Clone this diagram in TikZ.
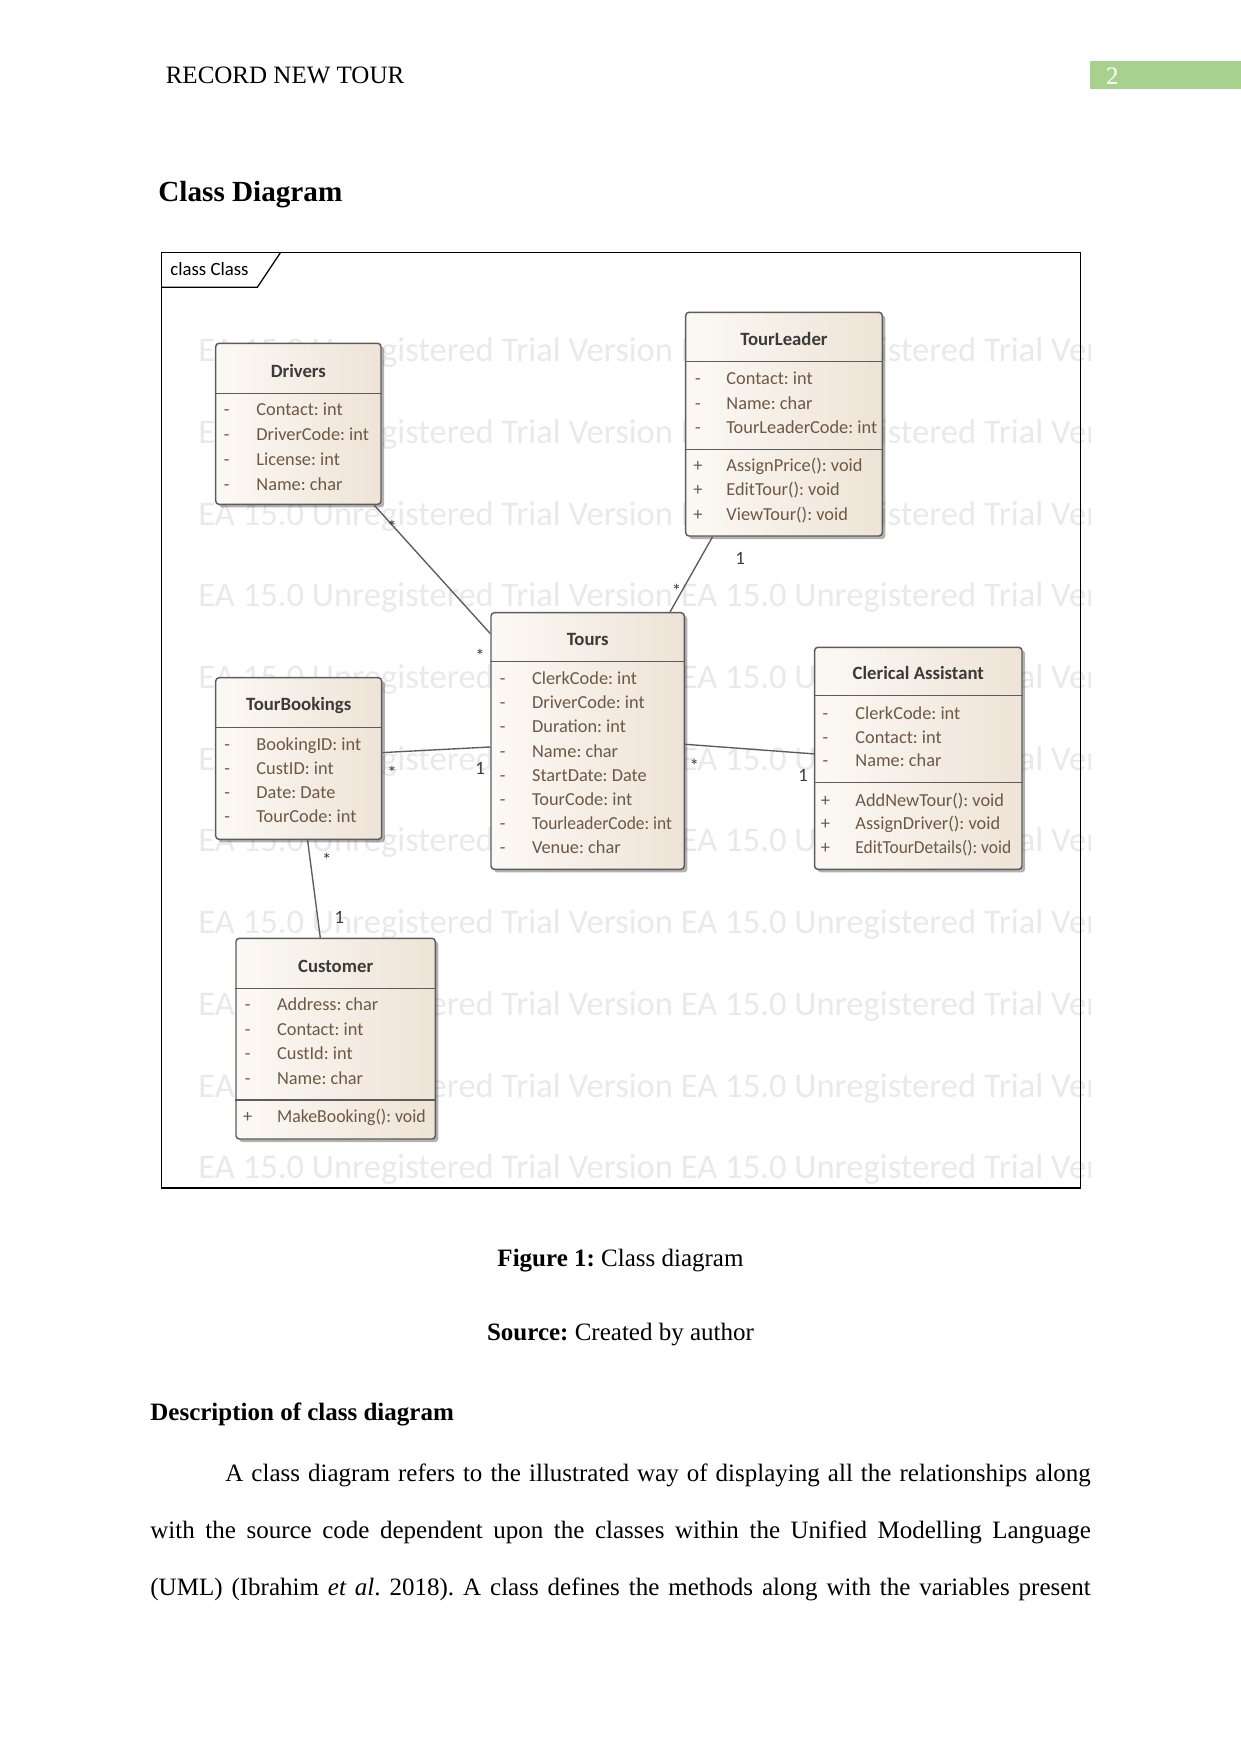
\documentclass[tikz,border=0pt]{standalone}
\usepackage{fontspec}
\setmainfont{Liberation Serif}
\newfontfamily\eafont{Carlito}
\usetikzlibrary{positioning,calc,fit,shadows}
\definecolor{eaborder}{RGB}{92,92,92}
\definecolor{ealeft}{RGB}{252,249,245}
\definecolor{earight}{RGB}{238,227,214}
\definecolor{eatext}{RGB}{110,88,68}
\definecolor{eadark}{RGB}{58,58,58}
\definecolor{eawater}{RGB}{233,233,233}
\definecolor{pagegreen}{RGB}{169,209,142}
\frenchspacing

\tikzset{
  classbox/.style={draw=eaborder, line width=0.7pt, rounded corners=1.6pt,
    left color=ealeft, right color=earight, inner sep=0pt,
    drop shadow={shadow xshift=1.5pt, shadow yshift=-1.5pt, opacity=0.3, fill=black}},
  sepline/.style={draw=eaborder, line width=0.7pt},
  classname/.style={font=\eafont\fontsize{9}{11}\selectfont\bfseries, text=eadark, inner sep=0pt},
  member/.style={font=\eafont\fontsize{8.8}{11}\selectfont, text=eatext, inner sep=0pt,
    text height=6.3pt, text depth=1.9pt},
  mult/.style={font=\eafont\fontsize{9}{11}\selectfont, text=eadark, inner sep=0pt},
  assoc/.style={draw=eaborder, line width=0.65pt},
  watermark/.style={font=\eafont\fontsize{16.6}{18}\selectfont, text=eawater, inner sep=0pt, anchor=base west},
  pagetext/.style={font=\fontsize{12}{14}\selectfont, inner sep=0pt}
}

\begin{document}
\begin{tikzpicture}[x=0.48pt, y=-0.48pt]
  \useasboundingbox (0,0) rectangle (1241,1754);

  % Page header
  \node[pagetext, anchor=base west] (header) at (165.4,83.3) {RECORD NEW TOUR};
  \fill[pagegreen] (1090,60.7) rectangle (1241,89);
  \node[pagetext, anchor=base west, text=white] (pagenum) at (1105.7,84) {2};
  \node[pagetext, anchor=base west, font=\fontsize{14}{16}\selectfont\bfseries] (heading) at (158,201) {Class Diagram};

  % Trial watermark behind the diagram
  \begin{scope}
    \clip (161.7,252.3) rectangle (1090,1190);
    \foreach \k in {0,...,10}
      \node[watermark] (wm\k) at (198,361.7+81.7*\k)
        {EA 15.0 Unregistered Trial Version EA 15.0 Unregistered Trial Version};
  \end{scope}

  % Diagram frame
  \draw[black, line width=0.6pt] (161.7,252.3) rectangle (1080.5,1188);
  \draw[black, line width=0.6pt] (161.7,287.3) -- (257.3,287.3) -- (280.7,252.3);
  \node[anchor=west, font=\eafont\fontsize{9}{11}\selectfont, inner sep=0pt] (frametag) at (170,269.5) {class Class};

  % Drivers
  \node[classbox, fit={(215.7,343.3) (381,504.3)}] (drivers) {};
  \draw[sepline] (drivers.west |- 0,393.3) -- (drivers.east |- 0,393.3);
  \node[classname] (drivers-t) at (drivers.north |- 0,371) {Drivers};
  \foreach \m [count=\i from 0] in {Contact: int, DriverCode: int, License: int, Name: char} {
    \node[member] (drivers-s\i) at (226.7,410.7+25*\i) {-};
    \node[member, anchor=west] (drivers-a\i) at (256,410.7+25*\i) {\m};
  }

  % TourLeader
  \node[classbox, fit={(685.7,312.3) (882.3,536)}] (leader) {};
  \draw[sepline] (leader.west |- 0,361.7) -- (leader.east |- 0,361.7);
  \draw[sepline] (leader.west |- 0,449.3) -- (leader.east |- 0,449.3);
  \node[classname] (leader-t) at (leader.north |- 0,339.3) {TourLeader};
  \foreach \m [count=\i from 0] in {Contact: int, Name: char, TourLeaderCode: int} {
    \node[member] (leader-s\i) at (698,380+24.6*\i) {-};
    \node[member, anchor=west] (leader-a\i) at (726,380+24.6*\i) {\m};
  }
  \foreach \m [count=\i from 0] in {AssignPrice(): void, EditTour(): void, ViewTour(): void} {
    \node[member] (leader-p\i) at (698,466.7+24.7*\i) {+};
    \node[member, anchor=west] (leader-o\i) at (726,466.7+24.7*\i) {\m};
  }

  % Tours
  \node[classbox, fit={(491,612.7) (684.3,869.3)}] (tours) {};
  \draw[sepline] (tours.west |- 0,661.7) -- (tours.east |- 0,661.7);
  \node[classname] (tours-t) at (tours.north |- 0,639.3) {Tours};
  \foreach \m [count=\i from 0] in {ClerkCode: int, DriverCode: int, Duration: int, Name: char,
      StartDate: Date, TourCode: int, {\scalebox{0.95}[1]{TourleaderCode: int}}, Venue: char} {
    \node[member] (tours-s\i) at (502.7,680.3+24.05*\i) {-};
    \node[member, anchor=west] (tours-a\i) at (531.7,680.3+24.05*\i) {\m};
  }

  % TourBookings
  \node[classbox, fit={(215.7,677.7) (381.7,839.3)}] (bookings) {};
  \draw[sepline] (bookings.west |- 0,727.3) -- (bookings.east |- 0,727.3);
  \node[classname] (bookings-t) at (bookings.north |- 0,705) {TourBookings};
  \foreach \m [count=\i from 0] in {BookingID: int, CustID: int, Date: Date, TourCode: int} {
    \node[member] (bookings-s\i) at (227.3,745.7+24*\i) {-};
    \node[member, anchor=west] (bookings-a\i) at (256,745.7+24*\i) {\m};
  }

  % Clerical Assistant
  \node[classbox, fit={(814.6,647.3) (1022,869.3)}] (clerk) {};
  \draw[sepline] (clerk.west |- 0,695.7) -- (clerk.east |- 0,695.7);
  \draw[sepline] (clerk.west |- 0,782.3) -- (clerk.east |- 0,782.3);
  \node[classname] (clerk-t) at (clerk.north |- 0,673.3) {Clerical Assistant};
  \foreach \m [count=\i from 0] in {ClerkCode: int, Contact: int, Name: char} {
    \node[member] (clerk-s\i) at (825.4,715+23.7*\i) {-};
    \node[member, anchor=west] (clerk-a\i) at (855,715+23.7*\i) {\m};
  }
  \foreach \m [count=\i from 0] in {AddNewTour(): void, AssignDriver(): void,
      {\scalebox{0.95}[1]{EditTourDetails(): void}}} {
    \node[member] (clerk-p\i) at (825.4,801.7+23.5*\i) {+};
    \node[member, anchor=west] (clerk-o\i) at (855,801.7+23.5*\i) {\m};
  }

  % Customer
  \node[classbox, fit={(236,938.3) (435.3,1139)}] (customer) {};
  \draw[sepline] (customer.west |- 0,988.3) -- (customer.east |- 0,988.3);
  \draw[sepline] (customer.west |- 0,1100) -- (customer.east |- 0,1100);
  \node[classname] (customer-t) at (customer.north |- 0,966) {Customer};
  \foreach \m [count=\i from 0] in {Address: char, Contact: int, CustId: int, Name: char} {
    \node[member] (customer-s\i) at (247.7,1006+24.7*\i) {-};
    \node[member, anchor=west] (customer-a\i) at (276.7,1006+24.7*\i) {\m};
  }
  \node[member] (customer-p0) at (247.7,1117.7) {+};
  \node[member, anchor=west] (customer-o0) at (276.7,1117.7) {\scalebox{0.97}[1]{MakeBooking(): void}};

  % Associations
  \draw[assoc] ($(drivers.south east)+(-7.7,0)$) -- ($(tours.north west)+(0,21.6)$);
  \draw[assoc] ($(leader.south west)+(27.6,0)$) -- ($(tours.north east)+(-15,0)$);
  \draw[assoc] ($(bookings.north east)+(0,75.6)$) -- ($(tours.north west)+(0,135)$);
  \draw[assoc] ($(tours.north east)+(0,132.3)$) -- ($(clerk.north west)+(0,107.3)$);
  \draw[assoc] ($(bookings.south west)+(92.6,0)$) -- ($(customer.north west)+(85,0)$);

  % Multiplicities
  \node[mult] (m-drv) at (392,527) {*};
  \node[mult] (m-tdrv) at (480,656) {*};
  \node[mult] (m-ldr) at (740,558) {1};
  \node[mult] (m-tldr) at (676.5,591) {*};
  \node[mult] (m-bk) at (392,773) {*};
  \node[mult] (m-tbk) at (480,768.3) {1};
  \node[mult] (m-tclk) at (694.3,766) {*};
  \node[mult] (m-clk) at (803.2,775) {1};
  \node[mult] (m-bcu) at (326.7,860) {*};
  \node[mult] (m-cu) at (339.3,917.3) {1};

  % Caption and text below
  \node[pagetext, anchor=base] (caption) at (620.5,1266) {\textbf{Figure 1:} Class diagram};
  \node[pagetext, anchor=base] (source) at (620.5,1340.5) {\textbf{Source:} Created by author};
  \node[pagetext, anchor=base west, font=\fontsize{12}{14}\selectfont\bfseries] (desc) at (150,1420)
    {Description of class diagram};
  \node[pagetext, anchor=base west] (body1) at (150,1481.5)
    {\makebox[451.4pt][s]{\hspace*{36pt}A class diagram refers to the illustrated way of displaying all the relationships along}};
  \node[pagetext, anchor=base west] (body2) at (150,1538.5)
    {\makebox[451.4pt][s]{with the source code dependent upon the classes within the Unified Modelling Language}};
  \node[pagetext, anchor=base west] (body3) at (150,1595.5)
    {\makebox[451.4pt][s]{(UML) (Ibrahim \textit{et al}. 2018). A class defines the methods along with the variables present}};
\end{tikzpicture}
\end{document}
